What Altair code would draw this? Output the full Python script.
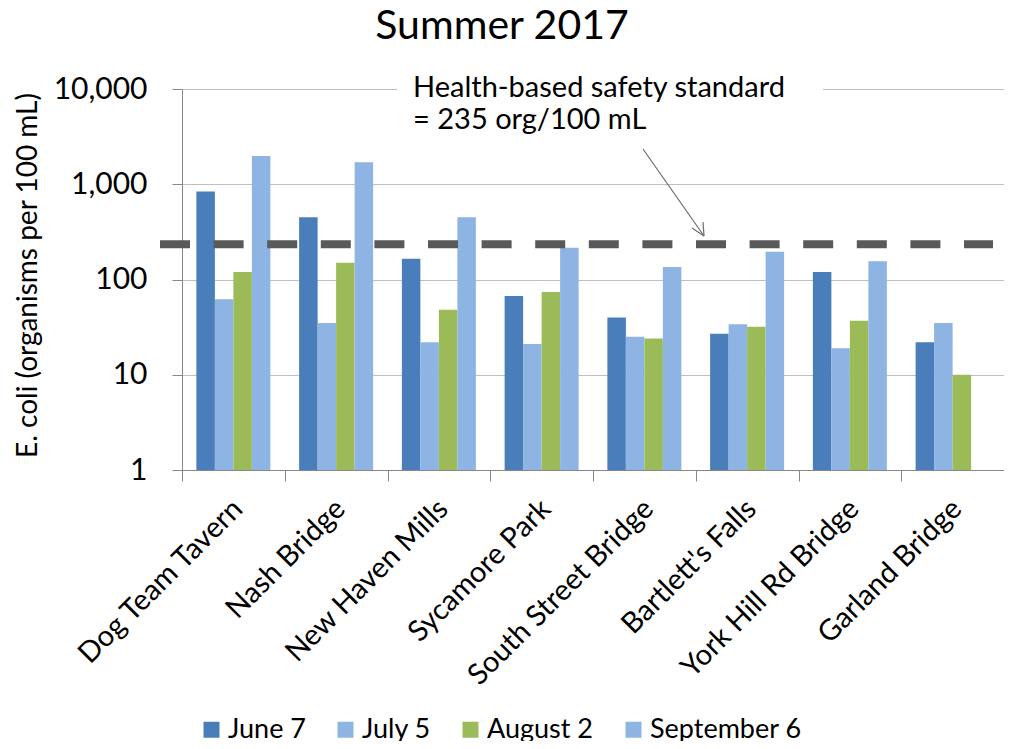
import altair as alt
import pandas as pd

# ---- data ----
sites = ["Dog Team Tavern", "Nash Bridge", "New Haven Mills", "Sycamore Park",
         "South Street Bridge", "Bartlett's Falls", "York Hill Rd Bridge", "Garland Bridge"]
series = ["June 7", "July 5", "August 2", "September 6"]
june7 = [840, 450, 165, 67, 40, 27, 120, 22]
july5 = [62, 35, 22, 21, 25, 34, 19, 35]
august2 = [120, 150, 48, 74, 24, 32, 37, 10]
september6 = [1980, 1700, 450, 215, 135, 195, 155, None]
colors = ["#4A7EBB", "#8DB4E2", "#9BBB59", "#8DB4E2"]
standard = 235
y_ticks = [1, 10, 100, 1000, 10000]
title_text = "Summer 2017"
y_title = "E. coli (organisms per 100 mL)"
note_lines = ["Health-based safety standard", "= 235 org/100 mL"]

rows = []
for name, vals in zip(series, [june7, july5, august2, september6]):
    for site, v in zip(sites, vals):
        if v is not None:
            rows.append({"site": site, "date": name, "value": v})
df = pd.DataFrame(rows)

W, H = 822, 381
FONT = "Lato"
GRAY = "#878787"

x_enc = alt.X("site:N", sort=sites,
              scale=alt.Scale(paddingInner=0, paddingOuter=0),
              axis=alt.Axis(title=None, labelAngle=315, labelAlign="right",
                            labelBaseline="top", labelPadding=13, labelOffset=-6,
                            labelFontSize=29, labelColor="black", tickBand="extent",
                            tickSize=11, tickColor=GRAY, domainColor=GRAY,
                            grid=False, labelLimit=400))
y_enc = alt.Y("value:Q", stack=None,
              scale=alt.Scale(type="log", domain=[1, 10000], nice=False),
              axis=alt.Axis(values=y_ticks, format=",", title=y_title,
                            titleFontSize=28, titleFontWeight="normal",
                            titleColor="black", titleAngle=270, titleX=-154,
                            titleY=186, titleAlign="center", titleBaseline="middle",
                            labelFontSize=30, labelColor="black", labelPadding=25,
                            tickSize=10, tickColor=GRAY, domainColor=GRAY,
                            gridColor="#BFBFBF", gridWidth=1))

bars = alt.Chart(df).mark_bar().encode(
    x=x_enc,
    xOffset=alt.XOffset("date:N", sort=series,
                        scale=alt.Scale(domain=series, paddingInner=0, paddingOuter=0.777)),
    y=y_enc,
    y2=alt.datum(1),
    color=alt.Color("date:N", sort=series,
                    scale=alt.Scale(domain=series, range=colors),
                    legend=alt.Legend(title=None, orient="none", direction="horizontal",
                                      legendX=16, legendY=627, symbolType="square",
                                      symbolSize=256, symbolStrokeWidth=0,
                                      labelFontSize=27, labelColor="black",
                                      columnPadding=26, labelOffset=3, padding=0,
                                      labelLimit=300)),
)

one = pd.DataFrame({"k": [0]})

std_line = alt.Chart(one).mark_rule(strokeWidth=8, strokeDash=[30, 23.6],
                                    color="#595959").encode(
    y=alt.datum(standard), x=alt.value(-22), x2=alt.value(811))

mask = alt.Chart(one).mark_rect(color="white").encode(
    x=alt.value(215), x2=alt.value(641), y=alt.value(-6), y2=alt.value(6))

note = alt.Chart(one).mark_text(align="left", baseline="alphabetic", fontSize=29,
                                lineHeight=32, color="black").encode(
    x=alt.value(231), y=alt.value(8), text=alt.value(note_lines))

# arrow shaft and open head (annotation, in pixels)
sx, sy, ex, ey = 461, 60, 522, 147
shaft = alt.Chart(one).mark_rule(color="#6A6A6A", strokeWidth=1.2).encode(
    x=alt.value(sx), y=alt.value(sy), x2=alt.value(ex), y2=alt.value(ey))
head1 = alt.Chart(one).mark_rule(color="#6A6A6A", strokeWidth=1.2).encode(
    x=alt.value(ex), y=alt.value(ey), x2=alt.value(ex - 1), y2=alt.value(ey - 14))
head2 = alt.Chart(one).mark_rule(color="#6A6A6A", strokeWidth=1.2).encode(
    x=alt.value(ex), y=alt.value(ey), x2=alt.value(ex - 12), y2=alt.value(ey - 8))

title = alt.Chart(one).mark_text(fontSize=41, baseline="alphabetic", align="center",
                                 color="black").encode(
    x=alt.value(320), y=alt.value(-50), text=alt.value(title_text))

chart = alt.layer(mask, bars, std_line, note, shaft, head1, head2, title).properties(
    width=W, height=H,
    autosize=alt.AutoSizeParams(type="none"),
    padding={"left": 174, "top": 81, "right": 0, "bottom": 271},
).configure(font=FONT).configure_view(stroke=None)

chart.save("out.html", embed_options={"renderer": "svg", "actions": False})
